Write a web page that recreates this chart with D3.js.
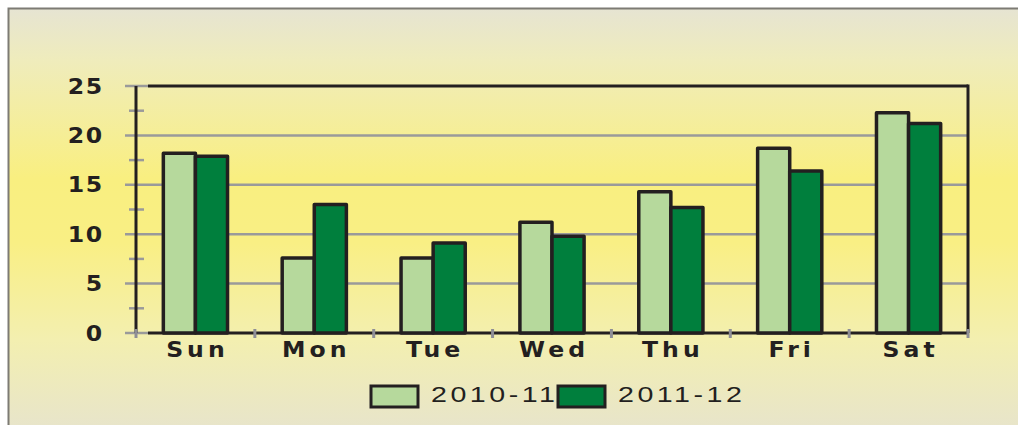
<!DOCTYPE html>
<html lang="en">
<head>
<meta charset="UTF-8">
<title>Days chart</title>
<script src="https://cdn.jsdelivr.net/npm/d3@7"></script>
<style>
    body { margin: 0; background: #fff; }
    svg { display: block; }
</style>
</head>
<body>
<div id="container"></div>
<script>
    // values
    let days = ["Sun", "Mon", "Tue", "Wed", "Thu", "Fri", "Sat"]
    let seriesNames = ["2010-11", "2011-12"]
    let vals2010 = [18.2, 7.6, 7.6, 11.2, 14.3, 18.7, 22.3]
    let vals2011 = [17.9, 13.0, 9.1, 9.8, 12.7, 16.4, 21.2]
    let yTicks = [0, 5, 10, 15, 20, 25]
    let colors = ["#b6d99c", "#007f3d"]

    let width = 1018, height = 425
    let plotLeft = 136, plotRight = 968, plotTop = 86, plotBottom = 333

    let data = days.map((d, i) => ({day: d, v: [vals2010[i], vals2011[i]]}))

    let svg = d3.select("#container").append("svg")
        .attr("width", width).attr("height", height)

    // background gradient
    let grad = svg.append("defs").append("linearGradient")
        .attr("id", "bg").attr("x1", 0).attr("y1", 0).attr("x2", 0).attr("y2", 1)
    ;[[0, "#e6e4d2"], [0.12, "#efecbc"], [0.4, "#f9ef80"], [0.55, "#f9ef84"], [0.78, "#f3efb0"], [1, "#e7e4cc"]]
        .forEach(s => grad.append("stop").attr("offset", s[0]).attr("stop-color", s[1]))

    svg.append("rect")
        .attr("x", 8.5).attr("y", 8.5).attr("width", width).attr("height", height)
        .attr("fill", "url(#bg)").attr("stroke", "#7d7b74").attr("stroke-width", 2)

    let x = d3.scaleBand().domain(days).range([plotLeft, plotRight]).paddingInner(0.46).paddingOuter(0.23)
    let xs = d3.scaleBand().domain([0, 1]).range([0, x.bandwidth()])
    let y = d3.scaleLinear().domain([0, 25]).range([plotBottom, plotTop])

    // gridlines + major ticks
    svg.append("g").selectAll("line").data(yTicks).enter().append("line")
        .attr("x1", plotLeft - 11).attr("x2", d => d === 0 || d === 25 ? plotLeft + 12 : plotRight)
        .attr("y1", d => y(d)).attr("y2", d => y(d))
        .attr("stroke", "#9a9a9a").attr("stroke-width", 2.5)

    // minor ticks
    svg.append("g").selectAll("line").data(d3.range(2.5, 25, 5)).enter().append("line")
        .attr("x1", plotLeft - 7).attr("x2", plotLeft + 8)
        .attr("y1", d => y(d)).attr("y2", d => y(d))
        .attr("stroke", "#9a9a9a").attr("stroke-width", 2.5)

    // frame lines (black)
    let frame = svg.append("g").attr("stroke", "#231f20").attr("stroke-width", 3).attr("fill", "none")
    frame.append("line").attr("x1", plotLeft).attr("x2", plotLeft).attr("y1", y(25)).attr("y2", y(0))
    frame.append("line").attr("x1", plotLeft + 12).attr("x2", plotRight).attr("y1", y(25)).attr("y2", y(25))
    frame.append("line").attr("x1", plotLeft + 12).attr("x2", plotRight).attr("y1", y(0)).attr("y2", y(0))
    frame.append("line").attr("x1", plotRight).attr("x2", plotRight).attr("y1", y(25) - 1.5).attr("y2", y(0))

    // category ticks
    let step = x.step()
    svg.append("g").selectAll("line").data(d3.range(days.length + 1)).enter().append("line")
        .attr("x1", i => plotLeft + i * step).attr("x2", i => plotLeft + i * step)
        .attr("y1", plotBottom - 4).attr("y2", plotBottom + 5)
        .attr("stroke", "#8e8e96").attr("stroke-width", 3)

    // bars
    let groups = svg.append("g").selectAll("g").data(data).enter().append("g")
        .attr("transform", d => "translate(" + x(d.day) + ",0)")
    groups.selectAll("rect").data(d => d.v).enter().append("rect")
        .attr("x", (d, i) => xs(i))
        .attr("width", xs.bandwidth())
        .attr("y", d => y(d))
        .attr("height", d => y(0) - y(d))
        .attr("fill", (d, i) => colors[i])
        .attr("stroke", "#231f20").attr("stroke-width", 3.5)
        .attr("stroke-linejoin", "round")

    // y labels
    svg.append("g").selectAll("g").data(yTicks).enter().append("g")
        .attr("transform", d => "translate(104," + (y(d) + 7.5) + ") scale(1.15,1)")
        .append("text")
        .attr("text-anchor", "end")
        .attr("font-family", "DejaVu Sans, sans-serif")
        .attr("font-weight", "bold").attr("font-size", 20.5)
        .attr("letter-spacing", 1.5)
        .attr("fill", "#231f20")
        .text(d => d)

    // x labels
    svg.append("g").selectAll("g").data(days).enter().append("g")
        .attr("transform", d => "translate(" + (x(d) + x.bandwidth() / 2 + 2) + ",357) scale(1.15,1)")
        .append("text")
        .attr("text-anchor", "middle")
        .attr("font-family", "DejaVu Sans, sans-serif")
        .attr("font-weight", "bold").attr("font-size", 20.5)
        .attr("letter-spacing", 3.5)
        .attr("fill", "#231f20")
        .text(d => d)

    // legend
    let legX = [370, 557]
    let leg = svg.append("g").selectAll("g").data(seriesNames).enter().append("g")
        .attr("transform", (d, i) => "translate(" + legX[i] + ",385)")
    leg.append("rect")
        .attr("x", 1).attr("y", 1).attr("width", 47).attr("height", 21)
        .attr("fill", (d, i) => colors[i])
        .attr("stroke", "#231f20").attr("stroke-width", 3)
    leg.append("g")
        .attr("transform", "translate(61,16.5) scale(1.3,1)")
        .append("text")
        .attr("font-family", "Liberation Sans, Arial, sans-serif")
        .attr("font-size", 22)
        .attr("letter-spacing", 2.7)
        .attr("fill", "#231f20")
        .text(d => d)
</script>
</body>
</html>
